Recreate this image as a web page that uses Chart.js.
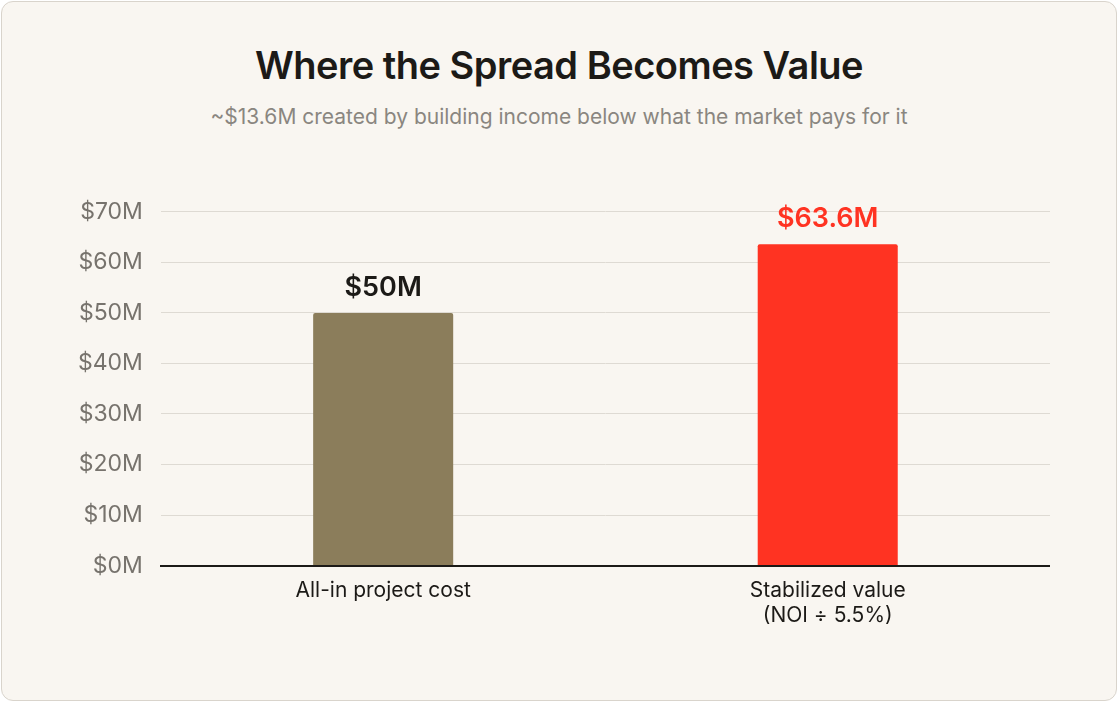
<!DOCTYPE html>
<html><head><meta charset="utf-8">
<script src="https://cdn.jsdelivr.net/npm/chart.js@4"></script>
<style>
html,body{margin:0;background:#fff;}
#card{position:absolute;left:1px;top:1px;width:1116px;height:700px;border:1px solid #d9d4cc;border-radius:12px;background:#f9f6f1;box-sizing:border-box;}
h1{position:absolute;top:40px;left:0;width:100%;text-align:center;margin:0;font:600 38px Inter,sans-serif;color:#1c1a17;letter-spacing:-0.5px}
.sub{position:absolute;top:102px;left:0;width:100%;text-align:center;font:400 21px Inter,sans-serif;color:#8a8680}
#wrap{position:absolute;left:60px;top:180px;width:990px;height:460px;}
</style></head><body>
<div id="card">
<h1>Where the Spread Becomes Value</h1>
<div class="sub">~$13.6M created by building income below what the market pays for it</div>
</div>
<div id="wrap"><canvas id="c"></canvas></div>
<script>
const categories=[["All-in project cost"],["Stabilized value","(NOI ÷ 5.5%)"]];
const values=[50,63.6];
const valueLabels=["$50M","$63.6M"];
const colors=["#8b7d5b","#ff3322"];
const labelColors=["#1c1a17","#ff3322"];
const tickStep=10, yMax=70;
const valLbl={id:'vl',afterDatasetsDraw(ch){const ctx=ch.ctx;const m=ch.getDatasetMeta(0);
ctx.save();ctx.font='600 27px Inter,sans-serif';ctx.textAlign='center';ctx.textBaseline='bottom';
m.data.forEach((b,i)=>{ctx.fillStyle=labelColors[i];ctx.fillText(valueLabels[i],b.x,b.y-12);});ctx.restore();}};
new Chart(document.getElementById('c'),{type:'bar',
data:{labels:categories,datasets:[{data:values,backgroundColor:colors,barPercentage:0.63,categoryPercentage:0.5,borderRadius:{topLeft:2,topRight:2}}]},
options:{responsive:true,maintainAspectRatio:false,animation:false,
layout:{padding:{left:0,right:0,top:30,bottom:0}},
plugins:{legend:{display:false},tooltip:{enabled:false}},
scales:{x:{grid:{display:false,drawTicks:false},border:{color:'#1c1a17',width:2},
ticks:{color:'#1c1a17',font:{family:'Inter',size:21},padding:12}},
y:{min:0,max:yMax,ticks:{stepSize:tickStep,color:'#77736d',font:{family:'Inter',size:23},padding:18,callback:v=>'$'+v+'M'},
grid:{color:'#dedad3',drawTicks:false},border:{display:false}}}},
plugins:[valLbl]});
</script></body></html>
